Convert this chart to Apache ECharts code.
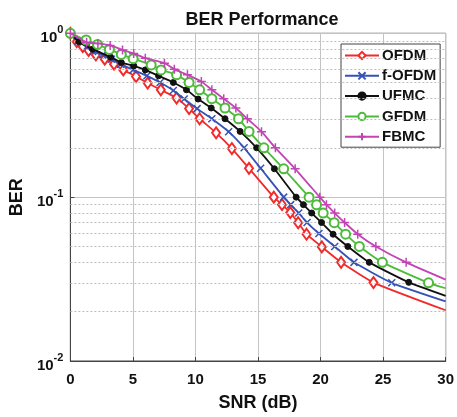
<!DOCTYPE html>
<html>
<head>
<meta charset="utf-8">
<script src="https://cdn.jsdelivr.net/npm/echarts@6/dist/echarts.min.js"></script>
<style>html,body{margin:0;padding:0;background:#fff}#c{width:457px;height:417px}</style>
</head>
<body>
<div id="c"></div>
<script>
const seriesNames = ['OFDM', 'f-OFDM', 'UFMC', 'GFDM', 'FBMC'];

const snrOFDM = [0, 0.51, 0.99, 1.46, 2.04, 2.75, 3.49, 4.23, 5.25, 6.18, 7.23, 8.49, 9.49, 10.33, 11.65, 12.91, 14.28, 16.26, 16.92, 17.58, 18.21, 18.88, 20.1, 21.64, 24.23, 30];
const berOFDM = [1, 0.889, 0.829, 0.784, 0.738, 0.695, 0.648, 0.598, 0.545, 0.497, 0.452, 0.403, 0.347, 0.301, 0.247, 0.198, 0.150, 0.100, 0.090, 0.0805, 0.0698, 0.0594, 0.0497, 0.040, 0.0301, 0.0204];

const snrFOFDM = [0, 0.59, 1.30, 1.78, 2.57, 3.28, 4.01, 5.02, 6.12, 7.17, 8.23, 9.10, 10.13, 11.31, 12.65, 13.89, 15.21, 17.05, 17.61, 18.25, 18.92, 19.87, 21.13, 22.67, 25.69, 30];
const berFOFDM = [1, 0.898, 0.826, 0.775, 0.738, 0.695, 0.648, 0.598, 0.550, 0.501, 0.448, 0.397, 0.347, 0.301, 0.251, 0.200, 0.150, 0.100, 0.090, 0.080, 0.070, 0.060, 0.050, 0.040, 0.030, 0.0231];

const snrUFMC = [0, 0.67, 1.78, 3.22, 4.07, 5.07, 5.99, 7.05, 8.23, 9.28, 10.21, 11.26, 12.36, 13.57, 14.89, 16.31, 18.05, 18.63, 19.29, 20.08, 21.0, 22.18, 23.89, 27.05, 30];
const berUFMC = [1, 0.889, 0.800, 0.715, 0.663, 0.633, 0.598, 0.550, 0.501, 0.452, 0.397, 0.350, 0.301, 0.252, 0.200, 0.149, 0.100, 0.090, 0.080, 0.070, 0.0594, 0.050, 0.040, 0.0302, 0.025];

const snrGFDM = [0, 1.26, 2.17, 3.12, 4.07, 5.02, 6.46, 7.25, 8.49, 9.49, 10.33, 11.31, 12.36, 13.44, 14.28, 15.47, 17.05, 19.08, 19.68, 20.21, 21.09, 22.0, 23.1, 24.94, 28.63, 30];
const berGFDM = [1, 0.91, 0.855, 0.797, 0.743, 0.700, 0.641, 0.598, 0.558, 0.501, 0.452, 0.399, 0.350, 0.301, 0.252, 0.200, 0.149, 0.100, 0.0898, 0.080, 0.0698, 0.0594, 0.050, 0.040, 0.030, 0.0278];

const snrFBMC = [0, 1.30, 2.20, 3.18, 4.17, 5.06, 5.99, 7.52, 8.31, 9.36, 10.47, 11.31, 12.26, 13.23, 14.15, 15.28, 16.39, 17.97, 19.94, 20.47, 21.13, 21.92, 22.97, 24.42, 26.84, 30];
const berFBMC = [1, 0.881, 0.867, 0.843, 0.792, 0.754, 0.705, 0.657, 0.604, 0.558, 0.508, 0.452, 0.399, 0.350, 0.301, 0.251, 0.200, 0.149, 0.100, 0.090, 0.080, 0.070, 0.0594, 0.050, 0.040, 0.0314];

const minorGrid = [0.02, 0.03, 0.04, 0.05, 0.06, 0.07, 0.08, 0.09, 0.2, 0.3, 0.4, 0.5, 0.6, 0.7, 0.8, 0.9];

const FONT = 'Liberation Sans, Arial, Helvetica, sans-serif';

function pts(xs, ys) {
  return xs.map((x, i) => i === xs.length - 1 ? { value: [x, ys[i]], symbol: 'none' } : [x, ys[i]]);
}

const styles = [
  { color: '#f22a2a', symbol: 'emptyDiamond', size: [8, 11], bw: 1.4 },
  { color: '#3752b5', symbol: 'path://M0,0L10,10M10,0L0,10', size: 7, bw: 1.5 },
  { color: '#111111', symbol: 'circle', size: 6, bw: 1 },
  { color: '#4dbb3a', symbol: 'emptyCircle', size: 9, bw: 1.4 },
  { color: '#c245b3', symbol: 'path://M5,0L5,10M0,5L10,5', size: 9, bw: 1.5 }
];
const dataSets = [
  pts(snrOFDM, berOFDM), pts(snrFOFDM, berFOFDM), pts(snrUFMC, berUFMC),
  pts(snrGFDM, berGFDM), pts(snrFBMC, berFBMC)
];

const series = [{
  name: 'grid', type: 'line', data: [], z: 1, silent: true,
  markLine: {
    silent: true, symbol: 'none', label: { show: false }, animation: false,
    lineStyle: { color: '#bdbdbd', type: [2, 2], width: 1 },
    data: minorGrid.map(v => ({ yAxis: v }))
  }
}];
seriesNames.forEach((n, i) => {
  const s = styles[i];
  series.push({
    name: n, type: 'line', data: dataSets[i], z: 3 + i,
    smooth: 0.15,
    symbol: s.symbol, symbolSize: s.size, showAllSymbol: true,
    lineStyle: { color: s.color, width: 1.8 },
    itemStyle: { color: s.color, borderColor: s.color, borderWidth: s.bw }
  });
});

const chart = echarts.init(document.getElementById('c'), null, { renderer: 'canvas' });
chart.setOption({
  animation: false,
  backgroundColor: '#fff',
  title: {
    text: 'BER Performance', left: 257, top: 6, textAlign: 'center',
    textStyle: { fontFamily: FONT, fontSize: 18, fontWeight: 'bold', color: '#111' }
  },
  grid: { left: 67.5, right: 9.7, top: 33.3, bottom: 54.7, show: true, borderColor: '#444', borderWidth: 1, containLabel: false },
  legend: {
    data: seriesNames, orient: 'vertical', left: 341, top: 44,
    backgroundColor: '#fff', borderColor: '#444', borderWidth: 1,
    padding: [4, 4, 3, 3], itemWidth: 34, itemHeight: 9, itemGap: 5.3,
    textStyle: { fontFamily: FONT, fontSize: 15, fontWeight: 'bold', color: '#111', padding: [0, 0, 0, -2] }
  },
  xAxis: {
    type: 'value', min: 0, max: 30, interval: 5,
    name: 'SNR (dB)', nameLocation: 'middle', nameGap: 33,
    nameTextStyle: { fontFamily: FONT, fontSize: 18, fontWeight: 'bold', color: '#111' },
    axisLine: { show: true, lineStyle: { color: '#444' } },
    axisTick: { show: true, inside: true, length: 4, lineStyle: { color: '#444' } },
    axisLabel: { fontFamily: FONT, fontSize: 15, fontWeight: 'bold', color: '#111', margin: 11 },
    splitLine: { show: true, lineStyle: { color: '#c4c4c4', width: 1 } }
  },
  yAxis: {
    type: 'log', logBase: 10, min: 0.01, max: 1,
    name: 'BER', nameLocation: 'middle', nameGap: 37, nameRotate: 90,
    nameTextStyle: { fontFamily: FONT, fontSize: 18, fontWeight: 'bold', color: '#111' },
    axisLine: { show: true, lineStyle: { color: '#444' } },
    axisTick: { show: true, inside: true, length: 4, lineStyle: { color: '#444' } },
    axisLabel: {
      margin: 7,
      formatter: v => '{b|10}{s|' + Math.round(Math.log10(v)) + '}',
      rich: {
        b: { fontFamily: FONT, fontSize: 15, fontWeight: 'bold', color: '#111', padding: [10, 0, 0, 0] },
        s: { fontFamily: FONT, fontSize: 11, fontWeight: 'bold', color: '#111', padding: [0, 0, 6, 0] }
      }
    },
    splitLine: { show: true, lineStyle: { color: '#c4c4c4', width: 1 } }
  },
  series: series
});
</script>
</body>
</html>
